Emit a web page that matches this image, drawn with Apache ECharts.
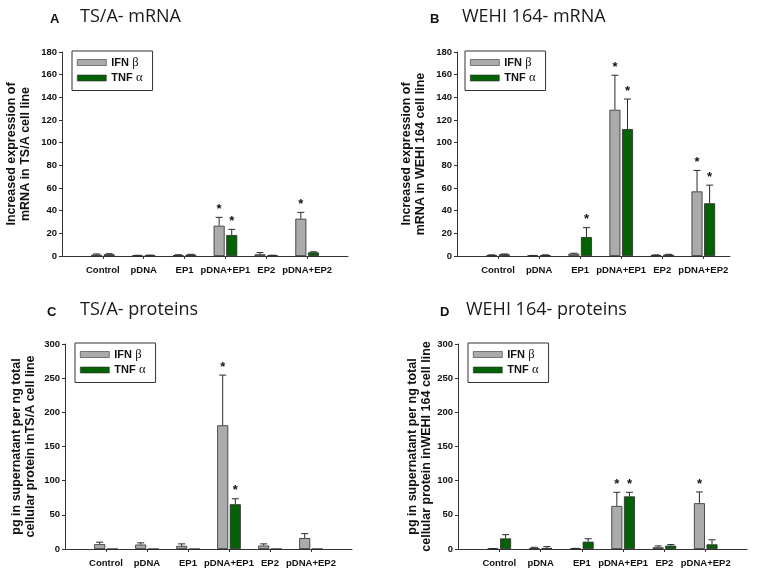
<!DOCTYPE html>
<html>
<head>
<meta charset="utf-8">
<script src="https://cdn.jsdelivr.net/npm/echarts@6/dist/echarts.min.js"></script>
<style>
  html, body { margin: 0; padding: 0; background: #ffffff; }
  #chart { width: 763px; height: 578px; }
</style>
</head>
<body>
<div id="chart"></div>
<script>
// ---------------- data ----------------
const categories = ['Control', 'pDNA', 'EP1', 'pDNA+EP1', 'EP2', 'pDNA+EP2'];
const seriesNames = ['IFN β', 'TNF α'];

// Panel A: TS/A- mRNA
const A_ifn    = [1.2, 0.4, 0.8, 26.7, 1.5, 32.9];
const A_ifnErr = [1.8, 0.6, 1.1, 34.1, 3.0, 38.5];
const A_ifnSig = [0, 0, 0, 1, 0, 1];
const A_tnf    = [1.5, 0.6, 1.2, 18.5, 0.5, 3.2];
const A_tnfErr = [2.0, 0.8, 1.5, 23.5, 0.7, 3.7];
const A_tnfSig = [0, 0, 0, 1, 0, 0];

// Panel B: WEHI 164- mRNA
const B_ifn    = [0.8, 0.4, 2.0, 129.0, 0.8, 57.0];
const B_ifnErr = [1.0, 0.5, 2.4, 159.5, 1.0, 75.5];
const B_ifnSig = [0, 0, 0, 1, 0, 1];
const B_tnf    = [1.5, 0.8, 16.7, 112.0, 1.2, 46.5];
const B_tnfErr = [1.8, 1.0, 25.0, 138.5, 1.5, 62.5];
const B_tnfSig = [0, 0, 1, 1, 0, 1];

// Panel C: TS/A- proteins
const C_ifn    = [7.0, 6.5, 4.5, 181.0, 5.0, 16.0];
const C_ifnErr = [10.0, 9.0, 7.5, 254.5, 7.5, 22.5];
const C_ifnSig = [0, 0, 0, 1, 0, 0];
const C_tnf    = [0, 0, 0, 65.5, 0, 0];
const C_tnfErr = [0, 0, 0, 73.5, 0, 0];
const C_tnfSig = [0, 0, 0, 1, 0, 0];

// Panel D: WEHI 164- proteins
const D_ifn    = [0.5, 1.5, 0.7, 63.0, 2.5, 67.0];
const D_ifnErr = [0.7, 2.5, 0.9, 83.0, 4.5, 83.5];
const D_ifnSig = [0, 0, 0, 1, 0, 1];
const D_tnf    = [15.5, 1.5, 10.7, 77.0, 4.9, 6.8];
const D_tnfErr = [21.0, 3.5, 15.0, 83.0, 6.5, 13.5];
const D_tnfSig = [0, 0, 0, 1, 0, 0];

const yTicksMRNA = { max: 180, interval: 20 };
const yTicksProt = { max: 300, interval: 50 };

// ---------------- layout / style ----------------
const GRAY = '#ababab';
const GREEN = '#046204';
const EDGE = '#2a2a2a';
const BAR_W = 11;
const BAR_GAP_PX = 1.6;
const OFF = (BAR_W + BAR_GAP_PX) / 2;
const SANS = '"Liberation Sans", Arial, sans-serif';

const panels = [
  { letter: 'A', title: 'TS/A- mRNA', lx: 50, tx: 80, ty: 20, xmax: 7,
    grid: { left: 62, top: 52, width: 286, height: 204 }, legend: { left: 72, top: 51 },
    yName: 'Increased expression of\nmRNA in TS/A cell line', nameGap: 29, yt: yTicksMRNA,
    ifn: A_ifn, ifnErr: A_ifnErr, ifnSig: A_ifnSig, tnf: A_tnf, tnfErr: A_tnfErr, tnfSig: A_tnfSig },
  { letter: 'B', title: 'WEHI 164- mRNA', lx: 430, tx: 462, ty: 20, xmax: 6.65,
    grid: { left: 457, top: 52, width: 273, height: 204 }, legend: { left: 465, top: 51 },
    yName: 'Increased expression of\nmRNA in WEHI 164 cell line', nameGap: 29, yt: yTicksMRNA,
    ifn: B_ifn, ifnErr: B_ifnErr, ifnSig: B_ifnSig, tnf: B_tnf, tnfErr: B_tnfErr, tnfSig: B_tnfSig },
  { letter: 'C', title: 'TS/A- proteins', lx: 47, tx: 80, ty: 313, xmax: 7,
    grid: { left: 65, top: 344, width: 287, height: 205 }, legend: { left: 75, top: 343 },
    yName: 'pg in supernatant per ng total\ncellular protein inTS/A cell line', nameGap: 27, yt: yTicksProt,
    ifn: C_ifn, ifnErr: C_ifnErr, ifnSig: C_ifnSig, tnf: C_tnf, tnfErr: C_tnfErr, tnfSig: C_tnfSig },
  { letter: 'D', title: 'WEHI 164- proteins', lx: 440, tx: 466, ty: 313, xmax: 7,
    grid: { left: 458, top: 344, width: 289, height: 205 }, legend: { left: 468, top: 343 },
    yName: 'pg in supernatant per ng total\ncellular protein inWEHI 164 cell line', nameGap: 23, yt: yTicksProt,
    ifn: D_ifn, ifnErr: D_ifnErr, ifnSig: D_ifnSig, tnf: D_tnf, tnfErr: D_tnfErr, tnfSig: D_tnfSig }
];

const positions = categories.map((_, i) => i + 1);

function errRender(sign) {
  return function (params, api) {
    const x = api.value(0), v = api.value(1), e = api.value(2), s = api.value(3);
    const p0 = api.coord([x, v]);
    const p1 = api.coord([x, e]);
    const cx = p0[0] + sign * OFF;
    const children = [];
    if (e > v) {
      children.push({ type: 'line', shape: { x1: cx, y1: p0[1], x2: cx, y2: p1[1] },
        style: { stroke: EDGE, lineWidth: 1 } });
      children.push({ type: 'line', shape: { x1: cx - 3.5, y1: p1[1], x2: cx + 3.5, y2: p1[1] },
        style: { stroke: EDGE, lineWidth: 1 } });
    }
    if (s) {
      const top = Math.min(p0[1], p1[1]);
      children.push({ type: 'text', x: cx, y: top - 8,
        style: { text: '*', fill: '#111', font: 'bold 13px ' + SANS,
          align: 'center', verticalAlign: 'middle' } });
    }
    return { type: 'group', children: children };
  };
}

const grid = [], xAxis = [], yAxis = [], series = [], legend = [], graphic = [];
const axisLineStyle = { color: '#333', width: 1 };

panels.forEach((p, k) => {
  grid.push(Object.assign({}, p.grid));
  xAxis.push({
    type: 'value', gridIndex: k, min: 0, max: p.xmax,
    splitLine: { show: false },
    axisLine: { show: true, onZero: false, lineStyle: axisLineStyle },
    axisTick: { show: true, customValues: positions, length: 3, lineStyle: axisLineStyle },
    axisLabel: { customValues: positions, formatter: v => categories[Math.round(v) - 1] || '',
      color: '#111', fontFamily: SANS, fontWeight: 'bold', fontSize: 9.5, margin: 9 }
  });
  yAxis.push({
    type: 'value', gridIndex: k, min: 0, max: p.yt.max, interval: p.yt.interval,
    splitLine: { show: false },
    axisLine: { show: true, lineStyle: axisLineStyle },
    axisTick: { show: true, length: 3, lineStyle: axisLineStyle },
    axisLabel: { color: '#111', fontFamily: SANS, fontWeight: 'bold', fontSize: 9.5, margin: 5 },
    name: p.yName, nameLocation: 'middle', nameGap: p.nameGap,
    nameTextStyle: { color: '#111', fontFamily: SANS, fontWeight: 'bold', fontSize: 12.5, lineHeight: 14 }
  });
  const ifnData = positions.map((x, i) => [x, p.ifn[i]]);
  const tnfData = positions.map((x, i) => [x, p.tnf[i]]);
  series.push({
    name: seriesNames[0], type: 'bar', xAxisIndex: k, yAxisIndex: k,
    barWidth: BAR_W, barGap: (BAR_GAP_PX / BAR_W * 100) + '%',
    itemStyle: { color: GRAY, borderColor: EDGE, borderWidth: 0.8 },
    data: ifnData, silent: true
  });
  series.push({
    name: seriesNames[1], type: 'bar', xAxisIndex: k, yAxisIndex: k,
    barWidth: BAR_W, barGap: (BAR_GAP_PX / BAR_W * 100) + '%',
    itemStyle: { color: GREEN, borderColor: EDGE, borderWidth: 0.8 },
    data: tnfData, silent: true
  });
  series.push({
    name: 'err-ifn-' + k, type: 'custom', xAxisIndex: k, yAxisIndex: k, z: 5, silent: true,
    renderItem: errRender(-1), clip: false,
    data: positions.map((x, i) => [x, p.ifn[i], p.ifnErr[i], p.ifnSig[i]])
  });
  series.push({
    name: 'err-tnf-' + k, type: 'custom', xAxisIndex: k, yAxisIndex: k, z: 5, silent: true,
    renderItem: errRender(1), clip: false,
    data: positions.map((x, i) => [x, p.tnf[i], p.tnfErr[i], p.tnfSig[i]])
  });
  legend.push({
    data: seriesNames, left: p.legend.left, top: p.legend.top, orient: 'vertical',
    selectedMode: false, icon: 'rect', itemWidth: 29, itemHeight: 6, itemGap: 2.5,
    itemStyle: { borderWidth: 0.6, borderColor: '#333' },
    padding: [5, 10, 6, 5], borderColor: '#333', borderWidth: 1, borderRadius: 0,
    backgroundColor: '#fff',
    formatter: name => {
      const parts = name.split(' ');
      return '{b|' + parts[0] + '} {g|' + parts[1] + '}';
    },
    textStyle: {
      color: '#111',
      rich: {
        b: { fontFamily: SANS, fontWeight: 'bold', fontSize: 11, color: '#111' },
        g: { fontFamily: '"Liberation Serif", "Times New Roman", serif', fontSize: 12.5, color: '#111' }
      }
    }
  });
  graphic.push({
    type: 'text', left: p.lx, top: p.ty - 7,
    style: { text: p.letter, fill: '#111', font: 'bold 13px ' + SANS }
  });
  graphic.push({
    type: 'text', left: p.tx, top: p.ty - 12,
    style: { text: p.title, fill: '#1a1a1a', font: '18px "Open Sans", sans-serif' }
  });
});

const chart = echarts.init(document.getElementById('chart'), null, { renderer: 'canvas' });
chart.setOption({
  animation: false,
  backgroundColor: '#ffffff',
  grid: grid, xAxis: xAxis, yAxis: yAxis, series: series, legend: legend, graphic: graphic
});
</script>
</body>
</html>
